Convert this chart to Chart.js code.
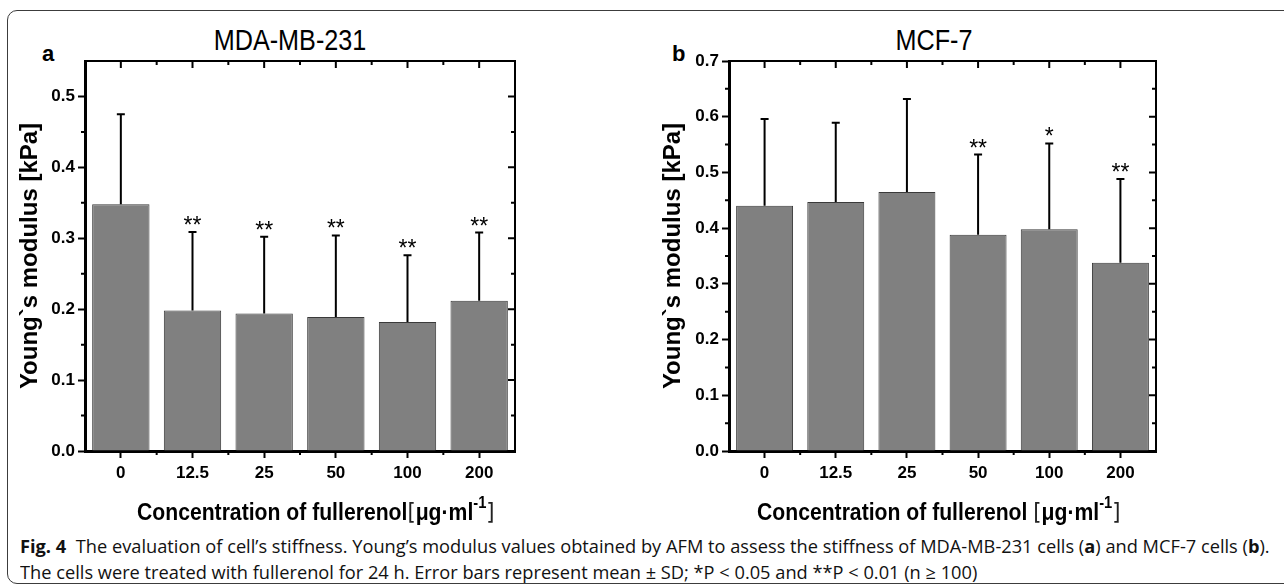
<!DOCTYPE html>
<html>
<head>
<meta charset="utf-8">
<script src="https://cdn.jsdelivr.net/npm/chart.js@4.4.1/dist/chart.umd.min.js"></script>
<style>
  body { margin: 0; background: #fff; width: 1284px; height: 588px; overflow: hidden; position: relative;
         font-family: 'Liberation Sans', Arial, sans-serif; color: #000; }
  .frame { position: absolute; left: 7px; top: 10px; width: 1300px; height: 572px; border: 1px solid #3c3c3c; border-radius: 10px; }
  .box { position: absolute; top: 0; height: 525px; }
  #boxA { left: 0; width: 530px; }
  #boxB { left: 640px; width: 530px; }
  .title { position: absolute; font-size: 30px; line-height: 30px; white-space: nowrap; transform: translateX(-50%) scaleX(0.84); }
  .letter { position: absolute; font-size: 22px; line-height: 22px; font-weight: bold; }
  .xtitle { position: absolute; top: 494px; font-size: 23px; line-height: 23px; font-weight: bold; white-space: nowrap;
            transform: scaleX(0.92); transform-origin: left center; }
  .xtitle .br { font-weight: normal; font-family: 'DejaVu Sans', sans-serif; font-size: 23px; color: #222; }
  .xtitle sup { font-size: 16px; position: relative; top: -3px; }
  .caption { position: absolute; left: 20px; font-family: 'Open Sans', 'Noto Sans', sans-serif; font-size: 18px;
             white-space: nowrap; transform-origin: left center; color: #111; }
</style>
</head>
<body>
<div class="frame"></div>

<div class="letter" style="left:42px; top:43px;">a</div>
<div class="title" style="left:290px; top:25px;">MDA-MB-231</div>
<div class="letter" style="left:672px; top:43px;">b</div>
<div class="title" style="left:934px; top:25px;">MCF-7</div>

<div class="box" id="boxA"><canvas id="chartA"></canvas></div>
<div class="box" id="boxB"><canvas id="chartB"></canvas></div>

<div class="xtitle" style="left:137px;">Concentration of fullerenol<span class="br">[</span>μg·ml<sup>-1</sup><span class="br">]</span></div>
<div class="xtitle" style="left:757px;">Concentration of fullerenol <span class="br">[</span>μg·ml<sup>-1</sup><span class="br">]</span></div>

<div class="caption" id="cap1" style="top:534px;"><b>Fig. 4</b>&nbsp; The evaluation of cell’s stiffness. Young’s modulus values obtained by AFM to assess the stiffness of MDA-MB-231 cells (<b>a</b>) and MCF-7 cells (<b>b</b>).</div>
<div class="caption" id="cap2" style="top:560px;">The cells were treated with fullerenol for 24 h. Error bars represent mean ± SD; *P &lt; 0.05 and **P &lt; 0.01 (n ≥ 100)</div>

<script>
// concentrations (µg/ml)
const doses = ['0', '12.5', '25', '50', '100', '200'];

// MDA-MB-231 : moyenne et écart-type (kPa)
const mdaMeans = [0.348, 0.198, 0.194, 0.189, 0.182, 0.212];
const mdaSD = [0.127, 0.111, 0.108, 0.115, 0.094, 0.096];
const mdaStars = ['', '**', '**', '**', '**', '**'];

// MCF-7
const mcfMeans = [0.440, 0.447, 0.465, 0.388, 0.398, 0.338];
const mcfSD = [0.156, 0.142, 0.167, 0.144, 0.154, 0.150];
const mcfStars = ['', '', '', '**', '*', '**'];

Chart.defaults.font.family = "'Liberation Sans', Arial, sans-serif";
Chart.defaults.color = '#000';

// error bars, stars, top/right frame and minor ticks
const extras = {
  id: 'extras',
  afterDraw(chart, args, opts) {
    const { ctx, chartArea: area, scales: { x, y } } = chart;
    const meta = chart.getDatasetMeta(0);
    ctx.save();
    ctx.strokeStyle = '#000';
    ctx.fillStyle = '#000';
    ctx.lineWidth = 2;

    meta.data.forEach((bar, i) => {
      const top = y.getPixelForValue(opts.means[i] + opts.sd[i]);
      ctx.beginPath();
      ctx.moveTo(bar.x, bar.y);
      ctx.lineTo(bar.x, top);
      ctx.moveTo(bar.x - 4, top);
      ctx.lineTo(bar.x + 4, top);
      ctx.stroke();
      if (opts.stars[i]) {
        ctx.font = "23px 'Liberation Sans', Arial, sans-serif";
        ctx.textAlign = 'center';
        ctx.textBaseline = 'alphabetic';
        ctx.fillText(opts.stars[i], bar.x, top + 1);
      }
    });

    // top and right lines
    ctx.beginPath();
    ctx.moveTo(area.left, area.top);
    ctx.lineTo(area.right, area.top);
    ctx.lineTo(area.right, area.bottom);
    ctx.stroke();

    // ticks on y
    const majors = y.ticks.map(t => t.value);
    const half = (majors[1] - majors[0]) / 2;
    ctx.beginPath();
    majors.forEach(v => {
      const py = y.getPixelForValue(v);
      if (v > 0 && py > area.top + 1) {
        ctx.moveTo(area.right, py); ctx.lineTo(area.right - 7, py);
      }
      const m = v + half;
      if (m < y.max - 1e-9) {
        const pm = y.getPixelForValue(m);
        ctx.moveTo(area.left, pm); ctx.lineTo(area.left - 4, pm);
        ctx.moveTo(area.right, pm); ctx.lineTo(area.right - 4, pm);
      }
    });

    // ticks on x
    const step = x.getPixelForValue(1) - x.getPixelForValue(0);
    doses.forEach((d, i) => {
      const px = x.getPixelForValue(i);
      ctx.moveTo(px, area.top); ctx.lineTo(px, area.top + 7);
      if (i > 0) {
        const pb = px - step / 2;
        ctx.moveTo(pb, area.top); ctx.lineTo(pb, area.top + 4);
        ctx.moveTo(pb, area.bottom); ctx.lineTo(pb, area.bottom + 4);
      }
    });
    ctx.stroke();
    ctx.restore();
  }
};

function makeChart(id, means, sd, stars, yMax, yWidth, titlePad, padRight) {
  const ctx = document.getElementById(id).getContext('2d');
  return new Chart(ctx, {
    type: 'bar',
    data: {
      labels: doses,
      datasets: [{
        data: means,
        backgroundColor: '#808080',
        borderColor: '#3a3a3a',
        borderWidth: 1,
        barPercentage: 0.8,
        categoryPercentage: 1.0
      }]
    },
    options: {
      responsive: true,
      maintainAspectRatio: false,
      animation: false,
      layout: { padding: { top: 61, right: padRight, bottom: 0, left: 0 } },
      plugins: {
        legend: { display: false },
        tooltip: { enabled: false },
        extras: { means: means, sd: sd, stars: stars }
      },
      scales: {
        x: {
          z: 1,
          grid: { offset: false, drawOnChartArea: false, tickLength: 7, tickWidth: 2, tickColor: '#000' },
          border: { display: true, width: 3, color: '#000' },
          ticks: { font: { size: 17, weight: 'bold' }, color: '#000', padding: 5, maxRotation: 0 },
          afterFit: scale => { scale.height = 74; }
        },
        y: {
          z: 1,
          min: 0,
          max: yMax,
          grid: { drawOnChartArea: false, tickLength: 7, tickWidth: 2, tickColor: '#000' },
          border: { display: true, width: 3, color: '#000' },
          ticks: {
            stepSize: 0.1,
            font: { size: 17, weight: 'bold' },
            color: '#000',
            padding: 3,
            callback: v => v.toFixed(1)
          },
          // keep only the 0.1 steps (no label at 0.55)
          afterBuildTicks: scale => {
            scale.ticks = scale.ticks.filter(t => Math.abs(t.value * 10 - Math.round(t.value * 10)) < 1e-6);
          },
          title: {
            display: true,
            text: 'Young`s modulus [kPa]',
            font: { size: 24, weight: 'bold' },
            color: '#000',
            padding: { top: titlePad, bottom: 0 }
          },
          afterFit: scale => { scale.width = yWidth; }
        }
      }
    },
    plugins: [extras]
  });
}

makeChart('chartA', mdaMeans, mdaSD, mdaStars, 0.55, 85, 15.6, 15);
makeChart('chartB', mcfMeans, mcfSD, mcfStars, 0.7, 89, 18.6, 14);

// fit caption to the original line width
const cap1 = document.getElementById('cap1');
const cap2 = document.getElementById('cap2');
const k = 1250 / cap1.scrollWidth;
cap1.style.transform = 'scaleX(' + k + ')';
cap2.style.transform = 'scaleX(' + k + ')';
</script>
</body>
</html>
